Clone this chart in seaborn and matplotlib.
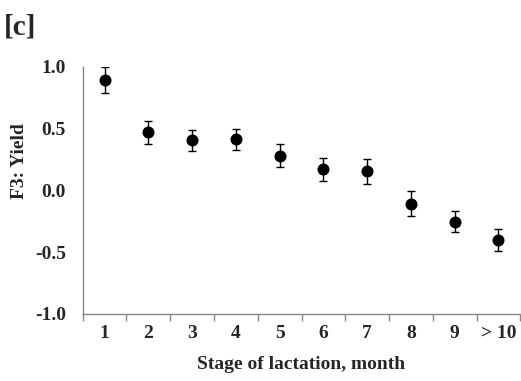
import matplotlib
matplotlib.use("Agg")
import matplotlib.pyplot as plt
import seaborn as sns
import numpy as np
import pandas as pd

categories = ["1", "2", "3", "4", "5", "6", "7", "8", "9", "> 10"]
values = [0.893, 0.470, 0.405, 0.413, 0.283, 0.170, 0.154, -0.108, -0.254, -0.402]
errors = [0.105, 0.095, 0.088, 0.086, 0.090, 0.095, 0.098, 0.100, 0.085, 0.090]
yticks = [-1.0, -0.5, 0.0, 0.5, 1.0]

sns.set_style("white")
plt.rcParams['font.family'] = ['Liberation Serif', 'DejaVu Serif']

df = pd.DataFrame({"pos": np.arange(len(categories)), "val": values, "err": errors})

fig = plt.figure(figsize=(5.21, 3.81), dpi=100)
ax = fig.add_axes([0.1587, 0.1759, 0.8400, 0.6483])

ax.errorbar(df["pos"], df["val"], yerr=df["err"], fmt="none", ecolor="black",
            elinewidth=1.0, capsize=3, capthick=1.0, zorder=2)
sns.scatterplot(data=df, x="pos", y="val", ax=ax, color="black", s=75,
                edgecolor="black", linewidth=0, zorder=3, legend=False)

ax.set_xlim(-0.5, len(categories) - 0.5)
ax.set_ylim(-1.0, 1.0)
ax.set_yticks(yticks)
ax.set_yticklabels([f"{t:.1f}" for t in yticks])
ax.set_xticks(df["pos"])
ax.set_xticklabels(categories)
ax.set_xticks(np.arange(-0.5, len(categories), 1.0), minor=True)

for s in ["top", "right"]:
    ax.spines[s].set_visible(False)
for s in ["left", "bottom"]:
    ax.spines[s].set_color("#888888")
    ax.spines[s].set_linewidth(1.0)

ax.tick_params(axis="y", which="major", direction="out", length=5, width=1,
               color="#888888", pad=7, labelsize=14)
ax.tick_params(axis="x", which="major", length=0, pad=8, labelsize=14)
ax.tick_params(axis="x", which="minor", direction="out", length=5, width=1,
               color="#888888", bottom=True)
for lab in ax.get_xticklabels() + ax.get_yticklabels():
    lab.set_fontweight("bold")

ax.set_xlabel("Stage of lactation, month", fontsize=14, fontweight="bold", labelpad=10)
ax.set_ylabel("F3: Yield", fontsize=14, fontweight="bold")
ax.yaxis.set_label_coords(-0.126, 0.62)

fig.text(0.008, 0.965, "[c]", fontsize=21, fontweight="bold", va="top", ha="left")

fig.savefig("out.png", dpi=100)
